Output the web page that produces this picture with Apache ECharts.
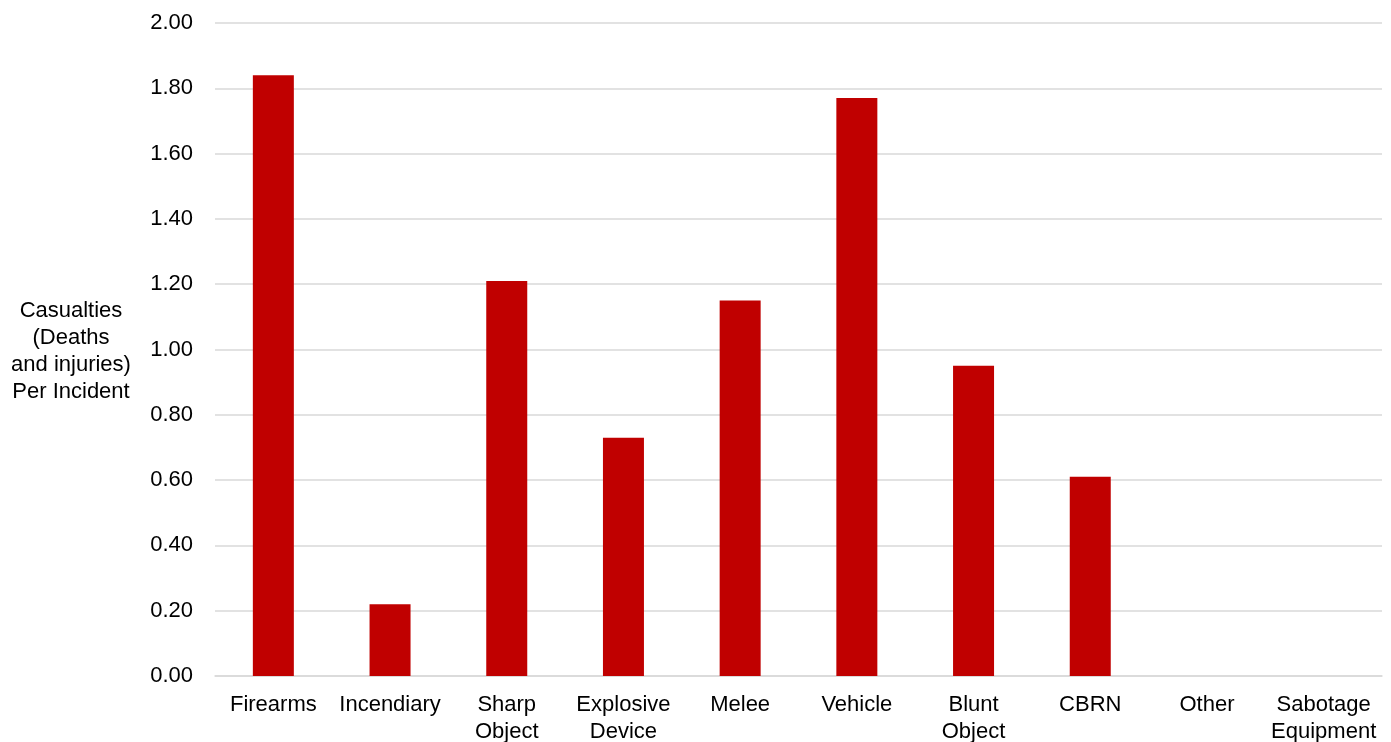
<!DOCTYPE html>
<html>
<head>
<meta charset="utf-8">
<script src="https://cdn.jsdelivr.net/npm/echarts@6/dist/echarts.min.js"></script>
<style>
  html, body { margin: 0; padding: 0; background: #fff; }
  #chart { width: 1391px; height: 742px; }
</style>
</head>
<body>
<div id="chart"></div>
<script>
// Weapon categories (multi-line labels use \n)
const categories = [
  'Firearms', 'Incendiary', 'Sharp\nObject', 'Explosive\nDevice', 'Melee',
  'Vehicle', 'Blunt\nObject', 'CBRN', 'Other', 'Sabotage\nEquipment'
];
// Casualties (deaths and injuries) per incident
const casualtiesPerIncident = [1.84, 0.22, 1.21, 0.73, 1.15, 1.77, 0.95, 0.61, 0, 0];
// Value axis ticks
const yTicks = { min: 0, max: 2, interval: 0.2 };
const yAxisTitle = 'Casualties\n(Deaths\nand injuries)\nPer Incident';

const FONT = '"Liberation Sans", Arial, sans-serif';
const chart = echarts.init(document.getElementById('chart'));
chart.setOption({
  animation: false,
  backgroundColor: '#ffffff',
  grid: {
    left: 215, right: 9, top: 23, bottom: 66,
    containLabel: false, outerBoundsMode: 'none'
  },
  graphic: [{
    type: 'text',
    x: 71, y: 351,
    style: {
      text: yAxisTitle,
      align: 'center',
      verticalAlign: 'middle',
      font: '22px ' + FONT,
      lineHeight: 27,
      fill: '#000'
    }
  }],
  xAxis: {
    type: 'category',
    data: categories,
    axisLine: { show: true, lineStyle: { color: '#d9d9d9', width: 1.5 } },
    axisTick: { show: false },
    axisLabel: {
      color: '#000', fontSize: 22, fontFamily: FONT,
      lineHeight: 27, margin: 15, interval: 0
    }
  },
  yAxis: {
    type: 'value',
    min: yTicks.min, max: yTicks.max, interval: yTicks.interval,
    axisLine: { show: false },
    axisTick: { show: false },
    splitLine: { lineStyle: { color: '#d9d9d9', width: 1.5 } },
    axisLabel: {
      color: '#000', fontSize: 22, fontFamily: FONT, margin: 22,
      formatter: v => v.toFixed(2)
    }
  },
  series: [{
    type: 'bar',
    data: casualtiesPerIncident,
    barWidth: 41,
    itemStyle: { color: '#c00000' }
  }]
});
</script>
</body>
</html>
